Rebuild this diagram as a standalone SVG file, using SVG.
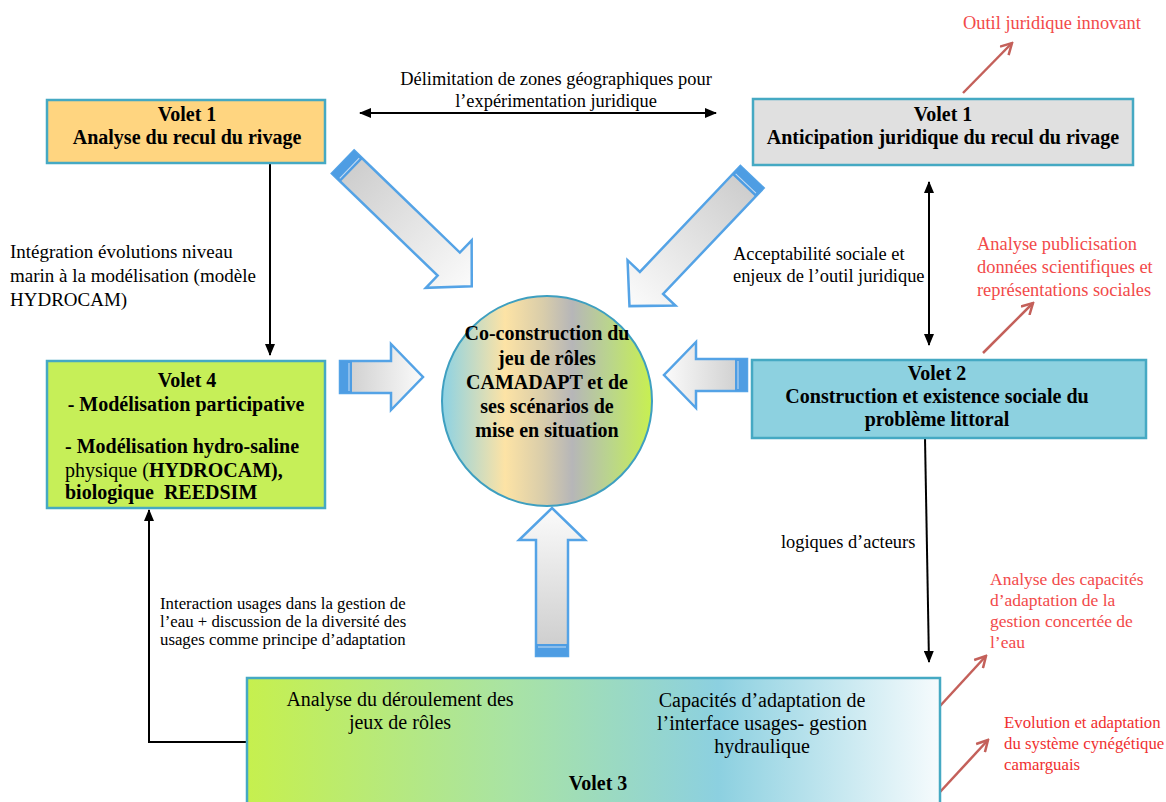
<svg xmlns="http://www.w3.org/2000/svg" width="1166" height="802" viewBox="0 0 1166 802">
<style>
text{font-family:"Liberation Serif","Times New Roman",serif;fill:#000}
.b{font-weight:bold;font-size:20px}
.t{font-size:18.4px}
.s{font-size:16.8px}
.r{font-size:18.4px;fill:#F24A4A}
.box{stroke:#45A9C3;stroke-width:2.5}
.blk{stroke:#000;stroke-width:2;fill:none}
.red{stroke:#C4605A;stroke-width:2.5;fill:none}
.ba{fill:url(#ag);stroke:#54A3E6;stroke-width:2.5;stroke-linejoin:miter}
</style>
<defs>
<linearGradient id="ag" x1="0" y1="0" x2="1" y2="0">
<stop offset="0" stop-color="#CBCBCB"/><stop offset="1" stop-color="#FBFBFB"/>
</linearGradient>
<linearGradient id="cg" x1="0" y1="0" x2="1" y2="0">
<stop offset="0" stop-color="#8CD2E4"/><stop offset="0.3" stop-color="#FDE3A5"/><stop offset="0.48" stop-color="#D9CDAA"/><stop offset="0.62" stop-color="#B6B6B8"/><stop offset="0.8" stop-color="#BAD58C"/><stop offset="1" stop-color="#C8F050"/>
</linearGradient>
<linearGradient id="bg" x1="0" y1="0" x2="1" y2="0">
<stop offset="0" stop-color="#C6F04E"/><stop offset="0.38" stop-color="#A9E3A4"/><stop offset="0.68" stop-color="#8CD0E0"/><stop offset="1" stop-color="#F6FBFD"/>
</linearGradient>
<marker id="ah" viewBox="0 0 12 10" refX="11" refY="5" markerWidth="12" markerHeight="10" markerUnits="userSpaceOnUse" orient="auto-start-reverse">
<path d="M0,0 L12,5 L0,10 Z" fill="#000"/>
</marker>
<marker id="rh" viewBox="0 0 14 14" refX="12" refY="7" markerWidth="14" markerHeight="14" markerUnits="userSpaceOnUse" orient="auto">
<path d="M1,1 L12,7 L1,13" fill="none" stroke="#C4605A" stroke-width="2.5"/>
</marker>
</defs>

<g id="connectors">
<line class="blk" x1="360" y1="113" x2="716" y2="113" marker-start="url(#ah)" marker-end="url(#ah)"/>
<line class="blk" x1="270" y1="163" x2="270" y2="355" marker-end="url(#ah)"/>
<line class="blk" x1="929" y1="182" x2="929" y2="345" marker-start="url(#ah)" marker-end="url(#ah)"/>
<line class="blk" x1="925" y1="438" x2="929" y2="662" marker-end="url(#ah)"/>
<polyline class="blk" points="247,742 149,742 149,510" marker-end="url(#ah)"/>
<line class="red" x1="963" y1="93" x2="1012" y2="43" marker-end="url(#rh)"/>
<line class="red" x1="983" y1="353" x2="1033" y2="303" marker-end="url(#rh)"/>
<line class="red" x1="940" y1="706" x2="986" y2="656" marker-end="url(#rh)"/>
<line class="red" x1="940" y1="792" x2="988" y2="740" marker-end="url(#rh)"/>
</g>

<g id="block-arrows">
<g transform="translate(343,162) rotate(44)">
<path class="ba" d="M0,-16 L147,-16 L147,-33 L179,0 L147,33 L147,16 L0,16 Z"/>
<rect x="0" y="-16" width="12" height="32" fill="#4E9DE3"/><line x1="9" y1="-14" x2="9" y2="14" stroke="#C8DDF2" stroke-width="1"/>
</g>
<g transform="translate(752,177) rotate(133.5)">
<path class="ba" d="M0,-16 L146,-16 L146,-33 L178,0 L146,33 L146,16 L0,16 Z"/>
<rect x="0" y="-16" width="12" height="32" fill="#4E9DE3"/><line x1="9" y1="-14" x2="9" y2="14" stroke="#C8DDF2" stroke-width="1"/>
</g>
<g transform="translate(340,377)">
<path class="ba" d="M0,-16 L51,-16 L51,-33 L83,0 L51,33 L51,16 L0,16 Z"/>
<rect x="0" y="-16" width="12" height="32" fill="#4E9DE3"/><line x1="9" y1="-14" x2="9" y2="14" stroke="#C8DDF2" stroke-width="1"/>
</g>
<g transform="translate(747,375) rotate(180)">
<path class="ba" d="M0,-16 L51,-16 L51,-33 L83,0 L51,33 L51,16 L0,16 Z"/>
<rect x="0" y="-16" width="12" height="32" fill="#4E9DE3"/><line x1="9" y1="-14" x2="9" y2="14" stroke="#C8DDF2" stroke-width="1"/>
</g>
<g transform="translate(552,656) rotate(-90)">
<path class="ba" d="M0,-16 L116,-16 L116,-33 L148,0 L116,33 L116,16 L0,16 Z"/>
<rect x="0" y="-16" width="12" height="32" fill="#4E9DE3"/><line x1="9" y1="-14" x2="9" y2="14" stroke="#C8DDF2" stroke-width="1"/>
</g>
</g>

<g id="volet1-analyse">
<rect class="box" x="47" y="100" width="278" height="63" fill="#FFD580"/>
<text class="b" x="187" y="121" text-anchor="middle">Volet 1</text>
<text class="b" x="187" y="144" text-anchor="middle">Analyse du recul du rivage</text>
</g>

<g id="volet1-anticipation">
<rect class="box" x="753" y="99" width="380" height="66" fill="#E0E0E0"/>
<text class="b" x="943" y="121" text-anchor="middle">Volet 1</text>
<text class="b" x="943" y="144" text-anchor="middle">Anticipation juridique du recul du rivage</text>
</g>

<g id="volet4">
<rect class="box" x="47" y="361" width="278" height="147" fill="#C6EF58"/>
<text class="b" x="187" y="387" text-anchor="middle">Volet 4</text>
<text class="b" x="186" y="411" text-anchor="middle">- Modélisation participative</text>
<text class="b" x="65" y="453">- Modélisation hydro-saline</text>
<text x="65" y="477" style="font-size:20px">physique (<tspan font-weight="bold">HYDROCAM),</tspan></text>
<text class="b" x="65" y="499" xml:space="preserve">biologique  REEDSIM</text>
</g>

<g id="volet2">
<rect class="box" x="752" y="360" width="394" height="78" fill="#8DD1E0"/>
<text class="b" x="937" y="380" text-anchor="middle">Volet 2</text>
<text class="b" x="937" y="403" text-anchor="middle">Construction et existence sociale du</text>
<text class="b" x="937" y="426" text-anchor="middle">problème littoral</text>
</g>

<g id="centre">
<circle cx="547" cy="401" r="105" fill="url(#cg)" stroke="#3E9FC0" stroke-width="2"/>
<text class="b" x="547" y="340" text-anchor="middle">Co-construction du</text>
<text class="b" x="547" y="365" text-anchor="middle">jeu de rôles</text>
<text class="b" x="547" y="389" text-anchor="middle">CAMADAPT et de</text>
<text class="b" x="547" y="413" text-anchor="middle">ses scénarios de</text>
<text class="b" x="547" y="437" text-anchor="middle">mise en situation</text>
</g>

<g id="volet3">
<rect class="box" x="247" y="678" width="693" height="140" fill="url(#bg)"/>
<text x="400" y="706" text-anchor="middle" style="font-size:20px">Analyse du déroulement des</text>
<text x="400" y="729" text-anchor="middle" style="font-size:20px">jeux de rôles</text>
<text x="762" y="707" text-anchor="middle" style="font-size:20px">Capacités d’adaptation de</text>
<text x="762" y="730" text-anchor="middle" style="font-size:20px">l’interface usages- gestion</text>
<text x="762" y="753" text-anchor="middle" style="font-size:20px">hydraulique</text>
<text class="b" x="598" y="790" text-anchor="middle">Volet 3</text>
</g>

<g id="labels">
<text class="t" x="556" y="85" text-anchor="middle">Délimitation de zones géographiques pour</text>
<text class="t" x="556" y="107" text-anchor="middle">l’expérimentation juridique</text>
<text x="10" y="258" style="font-size:19px">Intégration évolutions niveau</text>
<text x="10" y="282" style="font-size:19px">marin à la modélisation (modèle</text>
<text x="10" y="306" style="font-size:19px">HYDROCAM)</text>
<text class="t" x="733" y="260">Acceptabilité sociale et</text>
<text class="t" x="733" y="282">enjeux de l’outil juridique</text>
<text class="t" x="781" y="548">logiques d’acteurs</text>
<text class="s" x="160" y="609">Interaction usages dans la gestion de</text>
<text class="s" x="160" y="627">l’eau + discussion de la diversité des</text>
<text class="s" x="160" y="645">usages comme principe d’adaptation</text>
<text class="r" x="963" y="29">Outil juridique innovant</text>
<text class="r" x="977" y="250">Analyse publicisation</text>
<text class="r" x="977" y="273">données scientifiques et</text>
<text class="r" x="977" y="296">représentations sociales</text>
<text class="r" x="990" y="585" style="font-size:17.5px">Analyse des capacités</text>
<text class="r" x="990" y="606" style="font-size:17.5px">d’adaptation de la</text>
<text class="r" x="990" y="627" style="font-size:17.5px">gestion concertée de</text>
<text class="r" x="990" y="648" style="font-size:17.5px">l’eau</text>
<text class="r" x="1004" y="728" style="font-size:16.8px;fill:#F03030">Evolution et adaptation</text>
<text class="r" x="1004" y="749" style="font-size:16.8px;fill:#F03030">du système cynégétique</text>
<text class="r" x="1004" y="770" style="font-size:16.8px;fill:#F03030">camarguais</text>
</g>
</svg>
